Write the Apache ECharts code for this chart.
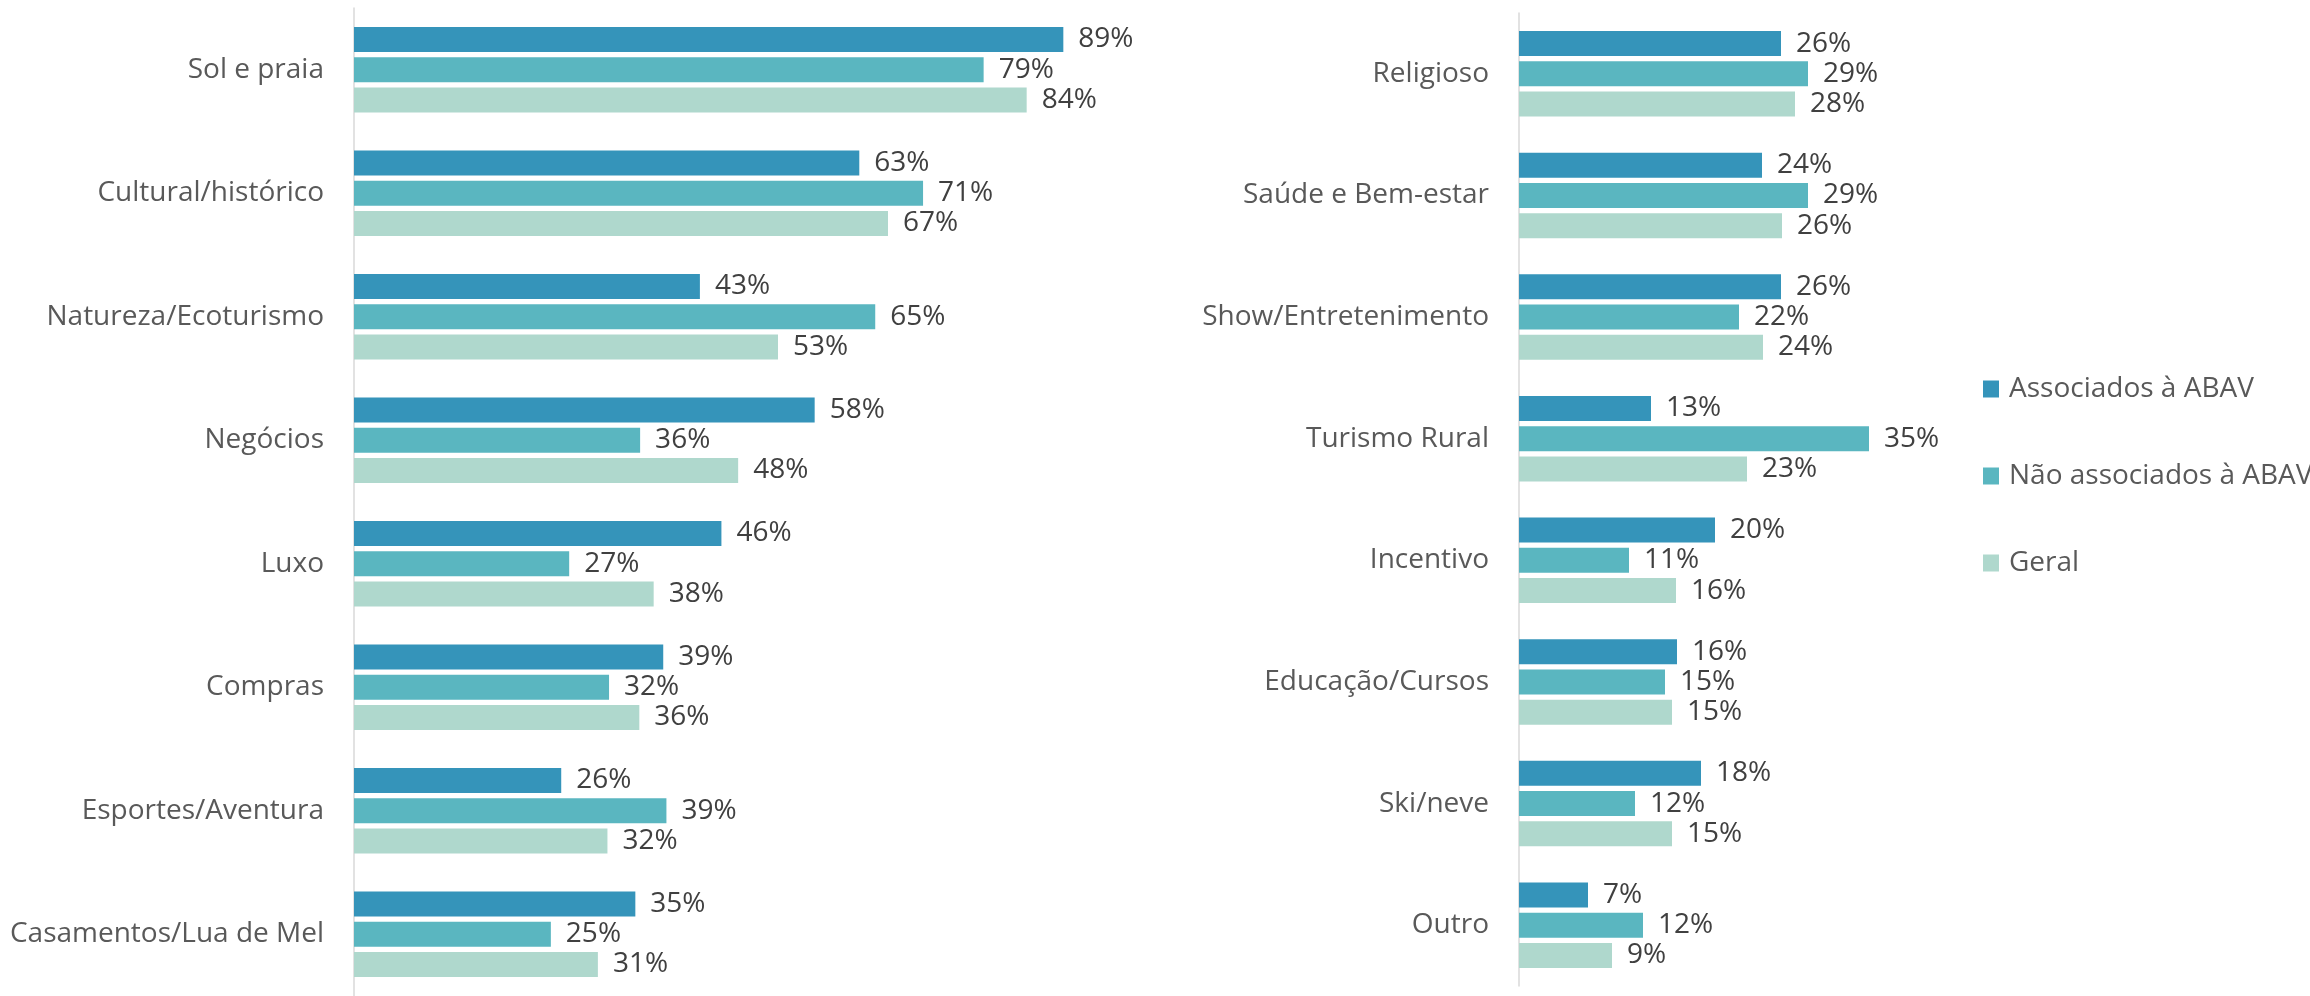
<!DOCTYPE html>
<html>
<head>
<meta charset="utf-8">
<script src="https://cdn.jsdelivr.net/npm/echarts@6/dist/echarts.min.js"></script>
<style>
  html, body { margin: 0; padding: 0; background: #fff; }
  #chart { width: 2310px; height: 996px; }
</style>
</head>
<body>
<div id="chart"></div>
<script>
// dados (rótulos arredondados)
var seriesNames = ['Associados à ABAV', 'Não associados à ABAV', 'Geral']
var colors = ['#3594ba', '#5ab6c0', '#afd8cd']

var leftCategories = ['Sol e praia', 'Cultural/histórico', 'Natureza/Ecoturismo', 'Negócios',
  'Luxo', 'Compras', 'Esportes/Aventura', 'Casamentos/Lua de Mel']
var leftAssociados = [89.0, 63.4, 43.4, 57.8, 46.1, 38.8, 26.0, 35.3]
var leftNaoAssociados = [79.0, 71.4, 65.4, 35.9, 27.0, 32.0, 39.2, 24.7]
var leftGeral = [84.4, 67.0, 53.2, 48.2, 37.6, 35.8, 31.8, 30.6]

var rightCategories = ['Religioso', 'Saúde e Bem-estar', 'Show/Entretenimento', 'Turismo Rural',
  'Incentivo', 'Educação/Cursos', 'Ski/neve', 'Outro']
var rightAssociados = [26.2, 24.3, 26.2, 13.2, 19.6, 15.8, 18.2, 6.9]
var rightNaoAssociados = [28.9, 28.9, 22.0, 35.0, 11.0, 14.6, 11.6, 12.4]
var rightGeral = [27.6, 26.3, 24.4, 22.8, 15.7, 15.3, 15.3, 9.3]

var font = '"Open Sans", "Noto Sans", sans-serif'

function makeSeries(idx, data, axisIndex) {
  return {
    name: seriesNames[idx],
    type: 'bar',
    xAxisIndex: axisIndex,
    yAxisIndex: axisIndex,
    data: data,
    barWidth: 25,
    barGap: '21%',
    itemStyle: { color: colors[idx] },
    label: {
      show: true,
      position: 'right',
      distance: 15,
      formatter: function (p) { return Math.round(p.value) + '%' },
      color: '#404040',
      fontSize: 28,
      fontFamily: font
    },
    emphasis: { disabled: true }
  }
}

function catAxis(cats, idx) {
  return {
    type: 'category',
    gridIndex: idx,
    inverse: true,
    data: cats,
    axisLine: { show: true, lineStyle: { color: '#d9d9d9', width: 1.5 } },
    axisTick: { show: false },
    axisLabel: { margin: 30, color: '#595959', fontSize: 28, fontFamily: font }
  }
}

var chart = echarts.init(document.getElementById('chart'))
chart.setOption({
  backgroundColor: '#fff',
  animation: false,
  legend: {
    orient: 'vertical',
    left: 1978,
    top: 370,
    itemWidth: 16,
    itemHeight: 17,
    itemGap: 59,
    icon: 'rect',
    selectedMode: false,
    data: seriesNames,
    textStyle: { color: '#595959', fontSize: 28, lineHeight: 28, fontFamily: font, padding: [0, 0, 0, 5] }
  },
  grid: [
    { left: 354, top: 8, width: 797, height: 991 },
    { left: 1519, top: 13, width: 400, height: 973 }
  ],
  xAxis: [
    { type: 'value', gridIndex: 0, min: 0, max: 100, show: false },
    { type: 'value', gridIndex: 1, min: 0, max: 40, show: false }
  ],
  yAxis: [catAxis(leftCategories, 0), catAxis(rightCategories, 1)],
  series: [
    makeSeries(0, leftAssociados, 0),
    makeSeries(1, leftNaoAssociados, 0),
    makeSeries(2, leftGeral, 0),
    makeSeries(0, rightAssociados, 1),
    makeSeries(1, rightNaoAssociados, 1),
    makeSeries(2, rightGeral, 1)
  ]
})
</script>
</body>
</html>
